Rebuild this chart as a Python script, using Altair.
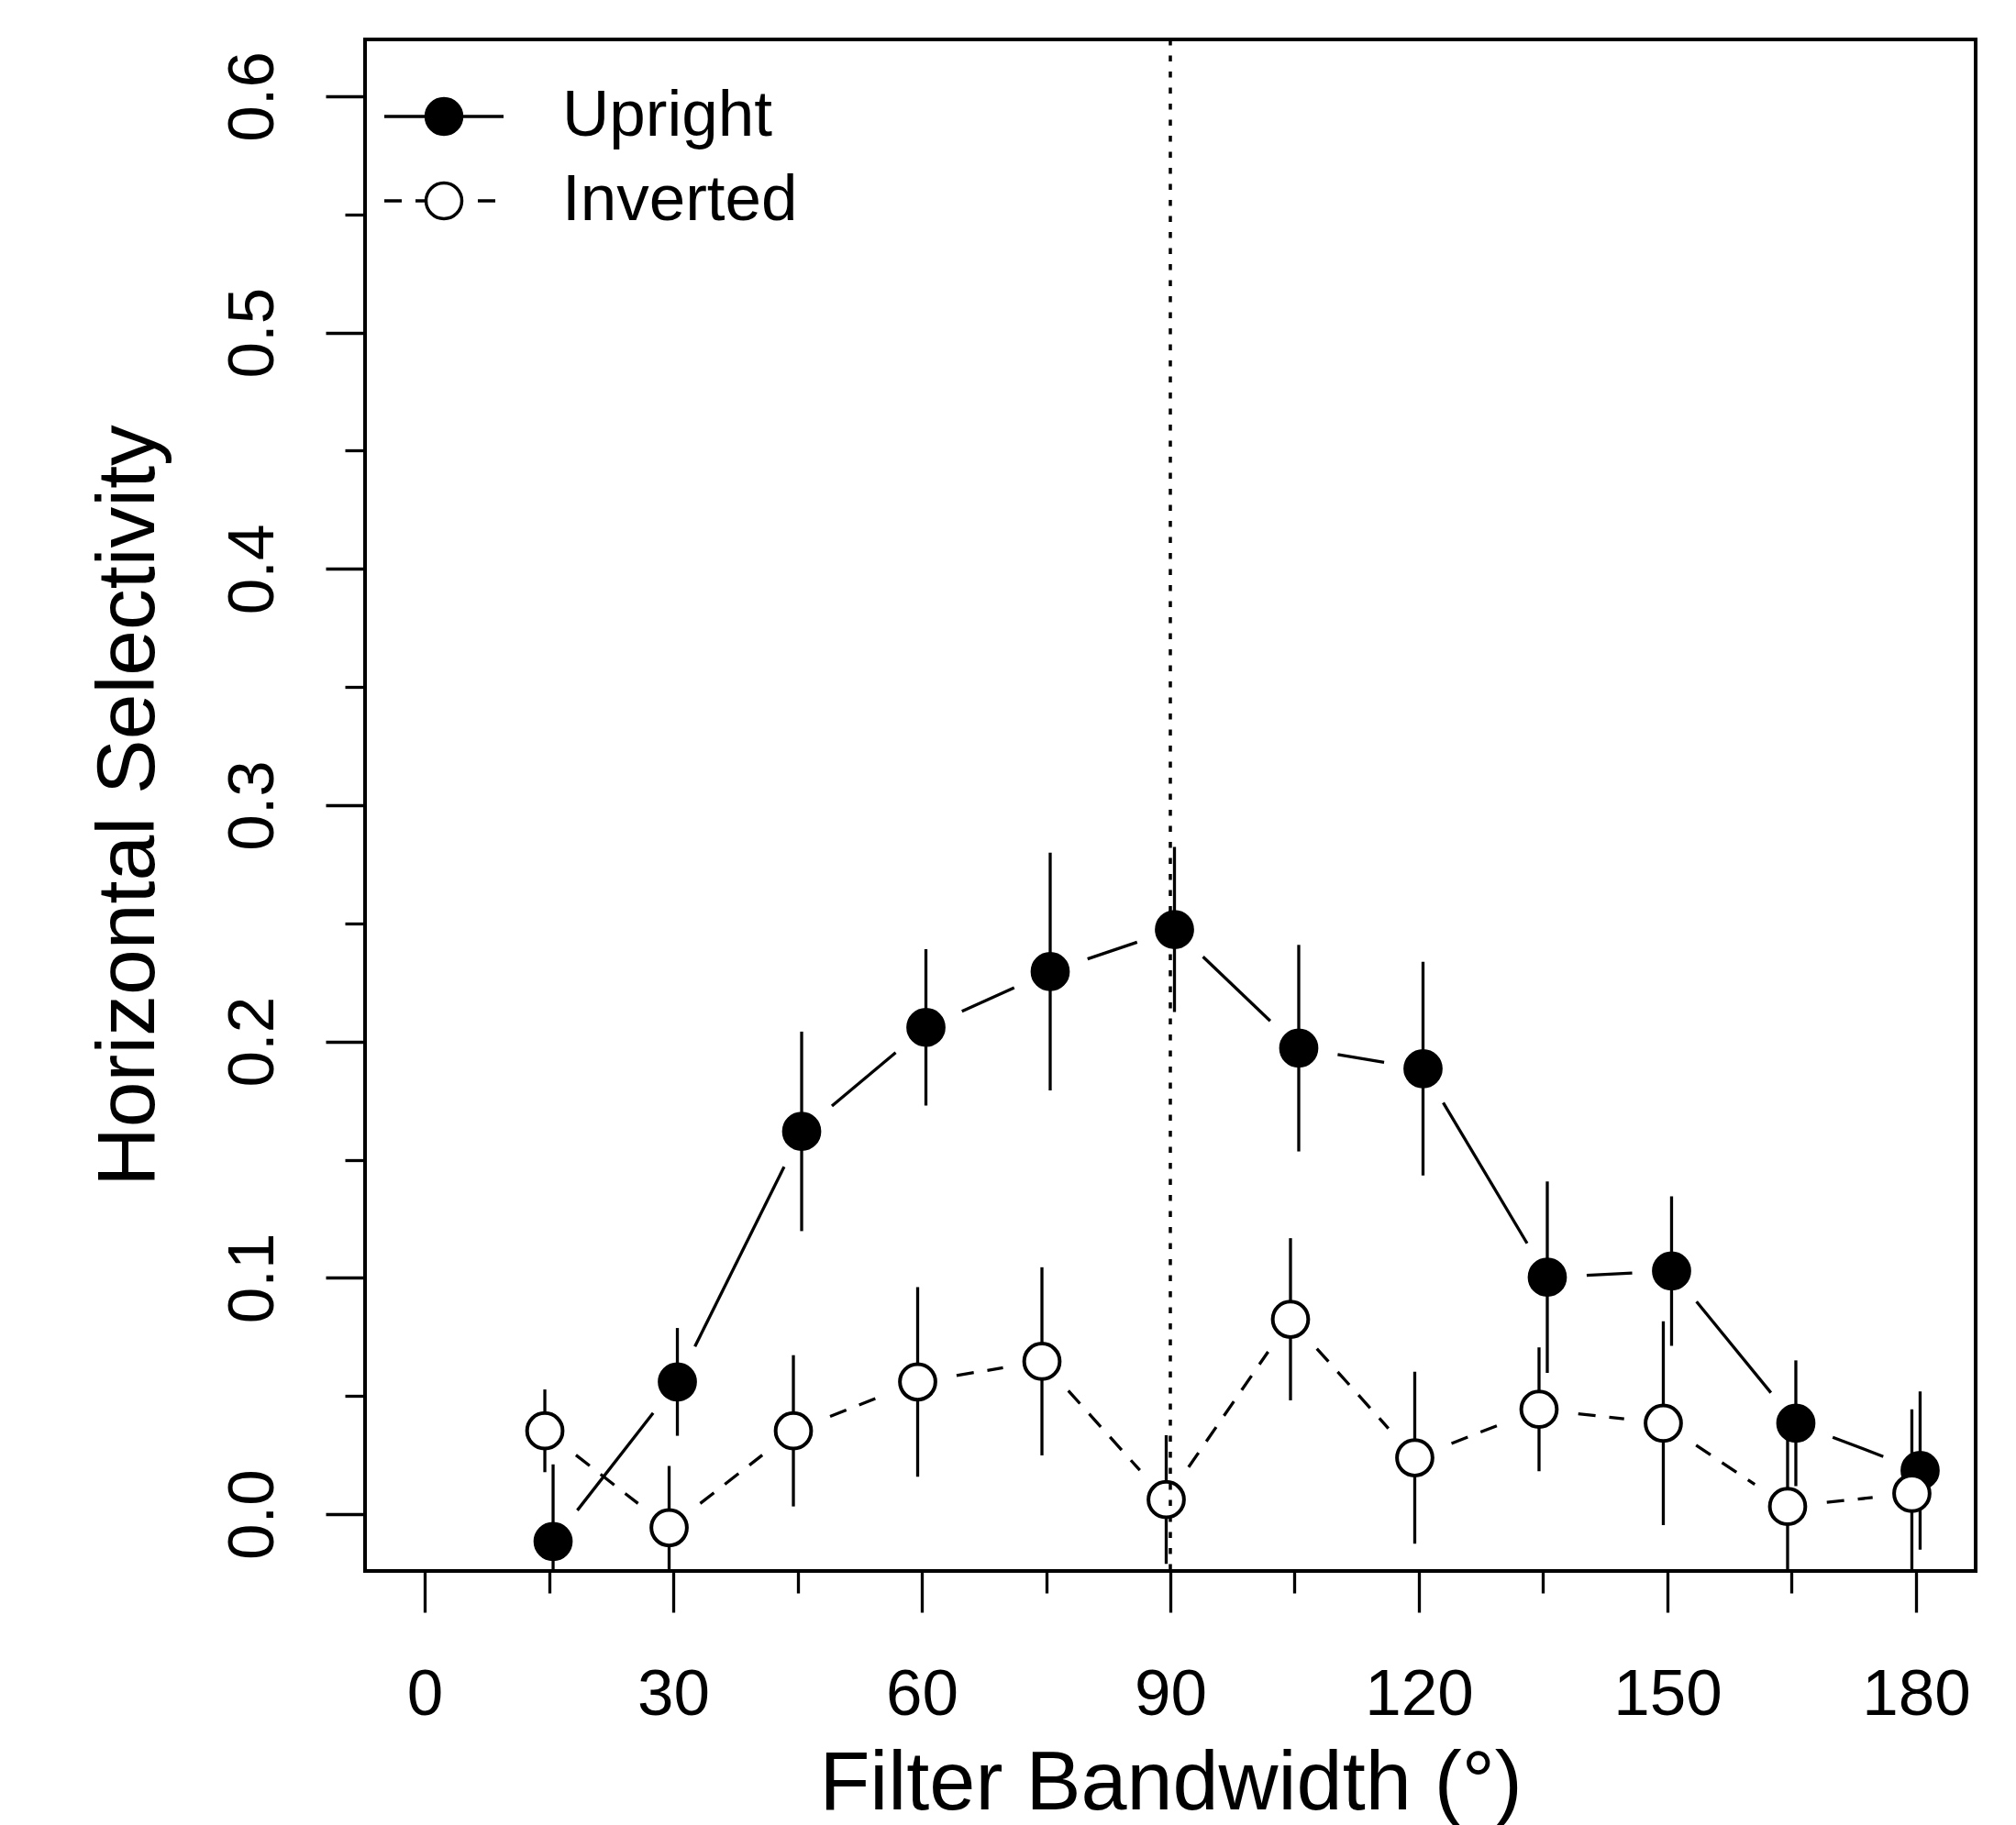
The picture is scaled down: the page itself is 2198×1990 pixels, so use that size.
import math
import altair as alt
import pandas as pd

# ---------------- data ----------------
bandwidth = [15, 30, 45, 60, 75, 90, 105, 120, 135, 150, 165, 180]
upright_mean = [-0.0115, 0.0560, 0.1620, 0.2060, 0.2296, 0.2474, 0.1972, 0.1885, 0.1003, 0.1029, 0.0385, 0.0185]
upright_se = [0.0326, 0.0228, 0.0422, 0.0331, 0.0503, 0.0349, 0.0437, 0.0452, 0.0405, 0.0316, 0.0266, 0.0335]
inverted_mean = [0.0353, -0.0057, 0.0353, 0.0560, 0.0647, 0.0062, 0.0825, 0.0239, 0.0444, 0.0385, 0.0033, 0.0088]
inverted_se = [0.0175, 0.0261, 0.0320, 0.0401, 0.0398, 0.0272, 0.0343, 0.0364, 0.0262, 0.0431, 0.0299, 0.0356]
series_names = ["Upright", "Inverted"]
x_ticks = list(range(0, 181, 15))
y_ticks = [round(i * 0.05, 2) for i in range(13)]
ref_line = [90]

# ---------------- layout constants ----------------
X_DOMAIN = [-7.2, 187.2]
Y_DOMAIN = [-0.024, 0.624]
W, H = 1756, 1670
GAP = 43          # R type="b" gap around points (px)
FONT = "Liberation Sans"
LW = 3.3

xscale = alt.Scale(domain=X_DOMAIN, nice=False, zero=False)
yscale = alt.Scale(domain=Y_DOMAIN, nice=False, zero=False)

is_major_x = "datum.value % 30 == 0"
is_major_y = "abs(datum.value * 10 - round(datum.value * 10)) < 0.001"

x_axis = alt.Axis(
    values=x_ticks, format="d",
    labelExpr=f"{is_major_x} ? datum.label : ''",
    tickSize={"condition": {"test": is_major_x, "value": 45}, "value": 24},
    tickWidth=LW, tickColor="black", domain=False, grid=False,
    labelFont=FONT, labelFontSize=71, labelColor="black",
    labelPadding=55, labelBaseline="top", labelAlign="center",
    labelFlush=False, labelOverlap=False,
    title="Filter Bandwidth (°)", titleFont=FONT, titleFontSize=90,
    titleFontWeight="normal", titleColor="black",
    titleBaseline="alphabetic", titleAlign="center",
    titleX=W / 2, titleY=259,
)
y_axis = alt.Axis(
    values=y_ticks,
    labelExpr=f"{is_major_y} ? format(datum.value, '.1f') : ''",
    tickSize={"condition": {"test": is_major_y, "value": 43}, "value": 22},
    tickWidth=LW, tickColor="black", domain=False, grid=False,
    labelFont=FONT, labelFontSize=71, labelColor="black",
    labelAngle=-90, labelAlign="center", labelBaseline="alphabetic",
    labelPadding=58, labelFlush=False, labelOverlap=False,
    title="Horizontal Selectivity", titleFont=FONT, titleFontSize=89.5,
    titleFontWeight="normal", titleColor="black",
    titleAngle=-90, titleBaseline="alphabetic", titleAlign="center",
    titleX=-231, titleY=H / 2,
)


def segments(xs, ys):
    sx = W / (X_DOMAIN[1] - X_DOMAIN[0])
    sy = H / (Y_DOMAIN[1] - Y_DOMAIN[0])
    rows = []
    for i in range(len(xs) - 1):
        ddx, ddy = xs[i + 1] - xs[i], ys[i + 1] - ys[i]
        L = math.hypot(ddx * sx, ddy * sy)
        if L <= 2 * GAP:
            continue
        f = GAP / L
        rows.append({
            "bw": xs[i] + f * ddx, "val": ys[i] + f * ddy,
            "bw2": xs[i + 1] - f * ddx, "val2": ys[i + 1] - f * ddy,
        })
    return pd.DataFrame(rows)


def series_layers(mean, se, filled, dash, xoff):
    df = pd.DataFrame({"bw": bandwidth, "val": mean, "se": se})
    base = alt.Chart(df).transform_calculate(
        lo="datum.val - datum.se", hi="datum.val + datum.se"
    )
    bars = base.mark_rule(color="black", strokeWidth=LW, clip=True, xOffset=xoff).encode(
        x=alt.X("bw:Q", scale=xscale, axis=x_axis),
        y=alt.Y("lo:Q", scale=yscale, axis=y_axis),
        y2="hi:Q",
    )
    seg_kw = dict(color="black", strokeWidth=LW, clip=True, xOffset=xoff, x2Offset=xoff)
    if dash:
        seg_kw["strokeDash"] = dash
    segs = alt.Chart(segments(bandwidth, mean)).mark_rule(**seg_kw).encode(
        x=alt.X("bw:Q", scale=xscale, axis=x_axis),
        y=alt.Y("val:Q", scale=yscale, axis=y_axis),
        x2="bw2:Q", y2="val2:Q",
    )
    pts = alt.Chart(df).mark_point(
        shape="circle", filled=True, fill="black" if filled else "white",
        stroke="black", strokeWidth=4, size=1500, opacity=1, xOffset=xoff,
    ).encode(
        x=alt.X("bw:Q", scale=xscale, axis=x_axis),
        y=alt.Y("val:Q", scale=yscale, axis=y_axis),
    )
    return [bars, segs, pts]


upright_layers = series_layers(upright_mean, upright_se, True, None, 4.5)
inverted_layers = series_layers(inverted_mean, inverted_se, False, [19, 15], -4.5)

vline = alt.Chart(pd.DataFrame({"bw": ref_line})).mark_rule(
    color="black", strokeWidth=3.5, strokeDash=[6.5, 11]
).encode(x=alt.X("bw:Q", scale=xscale, axis=x_axis))

# legend: custom symbols (line + circle), as in R's legend(lty, pch)
# symbol "unit" = 52 px; line half-length 65 px, circle radius 19.5 px
circ = "M0.375,0A0.375,0.375 0 1,1 -0.375,0A0.375,0.375 0 1,1 0.375,0Z"
path_upright = "M-1.25,0H1.25" + circ
path_inverted = "M-1.25,0H-0.885M-0.596,0H-0.4M0.711,0H1.077" + circ


def make_legend():
    return alt.Legend(
        title=None, orient="none", legendX=32, legendY=30, direction="vertical",
        symbolSize=10816, symbolStrokeColor="black", symbolStrokeWidth=3.5,
        symbolOpacity=1, labelFont=FONT, labelFontSize=71, labelColor="black",
        labelOffset=75, rowPadding=3, padding=0, labelLimit=0,
    )


legend_df = pd.DataFrame({"series": series_names, "bw": [0, 0], "val": [0, 0]})
legend_layer = alt.Chart(legend_df).transform_filter("false").mark_point(
    filled=True, strokeWidth=3.5
).encode(
    x=alt.X("bw:Q", scale=xscale, axis=x_axis),
    y=alt.Y("val:Q", scale=yscale, axis=y_axis),
    fill=alt.Fill("series:N", scale=alt.Scale(domain=series_names, range=["black", "white"]),
                  legend=make_legend()),
    stroke=alt.Stroke("series:N", scale=alt.Scale(domain=series_names, range=["black", "black"]),
                      legend=make_legend()),
    shape=alt.Shape("series:N", scale=alt.Scale(domain=series_names, range=[path_upright, path_inverted]),
                    legend=make_legend()),
)

chart = alt.layer(
    *upright_layers, *inverted_layers, vline, legend_layer
).properties(
    width=W, height=H,
    autosize=alt.AutoSizeParams(type="none"),
    padding={"left": 398, "top": 43, "right": 44, "bottom": 277},
    background="white",
).configure_view(
    stroke="black", strokeWidth=4
)

chart.save("out.html", embed_options={"renderer": "svg", "actions": False})
